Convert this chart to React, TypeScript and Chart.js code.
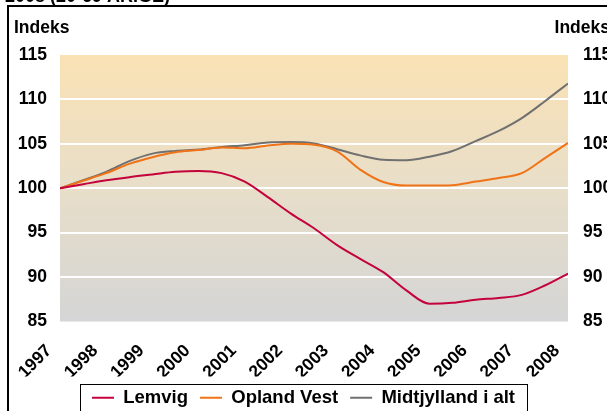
import React, { useEffect, useRef } from "react";
import { Chart, registerables } from "chart.js";

Chart.register(...registerables);

const years = [1997, 1997.5, 1998, 1998.5, 1999, 1999.5, 2000, 2000.5, 2001, 2001.5, 2002, 2002.5, 2003, 2003.5, 2004, 2004.5, 2005, 2005.5, 2006, 2006.5, 2007, 2007.5, 2008];
const lemvig = [100, 100.45, 100.9, 101.25, 101.55, 101.85, 101.95, 101.7, 100.75, 99.0, 97.15, 95.5, 93.6, 92.05, 90.55, 88.5, 87.0, 87.1, 87.45, 87.65, 88.0, 89.05, 90.4];
const oplandVest = [100, 100.85, 101.7, 102.75, 103.5, 104.05, 104.3, 104.6, 104.5, 104.8, 105.0, 104.9, 104.15, 102.1, 100.7, 100.3, 100.3, 100.35, 100.75, 101.15, 101.7, 103.4, 105.1];
const midtjylland = [100, 100.9, 101.85, 103.05, 103.9, 104.2, 104.35, 104.65, 104.85, 105.15, 105.2, 105.05, 104.4, 103.7, 103.2, 103.15, 103.55, 104.2, 105.3, 106.45, 107.9, 109.8, 111.8];
const seriesNames = ["Lemvig", "Opland Vest", "Midtjylland i alt"];
const yTicks = [85, 90, 95, 100, 105, 110, 115];
const axisTitle = "Indeks";
const chartTitle = "2008 (20-69 ÅRIGE)";

const FONT = "'Liberation Sans', Arial, sans-serif";

export default function App() {
  const ref = useRef<HTMLCanvasElement | null>(null);
  useEffect(() => {
    document.body.style.margin = "0";
    document.body.style.overflow = "hidden";
    const canvas = ref.current!;
    const toPts = (arr: number[]) => arr.map((v, i) => ({ x: years[i], y: v }));

    const decor = {
      id: "decor",
      beforeDraw(chart: any) {
        const { ctx, chartArea: a } = chart;
        const g = ctx.createLinearGradient(0, a.top, 0, a.bottom);
        g.addColorStop(0, "#FAE2B4");
        g.addColorStop(0.5, "#E8DEC9");
        g.addColorStop(1, "#D4D5D5");
        ctx.save();
        ctx.fillStyle = g;
        ctx.fillRect(a.left, a.top, a.right - a.left, a.bottom - a.top);
        ctx.restore();
      },
      afterDraw(chart: any) {
        const { ctx } = chart;
        ctx.save();
        ctx.strokeStyle = "#000";
        ctx.lineWidth = 2;
        ctx.beginPath();
        ctx.moveTo(8, chart.height);
        ctx.lineTo(8, 6);
        ctx.lineTo(chart.width, 6);
        ctx.stroke();
        ctx.fillStyle = "#000";
        ctx.font = `bold 18px ${FONT}`;
        ctx.textBaseline = "alphabetic";
        ctx.textAlign = "left";
        ctx.fillText(chartTitle, 5, 2);
        ctx.font = `bold 17.5px ${FONT}`;
        ctx.fillText(axisTitle, 14, 33);
        ctx.textAlign = "right";
        ctx.fillText(axisTitle, chart.width + 3, 33);
        const lg = chart.legend;
        if (lg && lg.legendHitBoxes && lg.legendHitBoxes.length) {
          const hb = lg.legendHitBoxes;
          const first = hb[0];
          const last = hb[hb.length - 1];
          const l = first.left - 12;
          const r = last.left + last.width + 12;
          const t = first.top - 5;
          ctx.strokeStyle = "#000";
          ctx.lineWidth = 1;
          ctx.strokeRect(Math.round(l) + 0.5, Math.round(t) + 0.5, Math.round(r - l), chart.height);
        }
        ctx.restore();
      },
    };

    const gridColor = (c: any) => (c.tick && (c.tick.value === 85 || c.tick.value === 115) ? "rgba(0,0,0,0)" : "#FFFFFF");
    const tickFont = { family: FONT, size: 17.5, weight: "bold" };

    const chart = new Chart(canvas, {
      type: "line",
      data: {
        datasets: [
          { label: seriesNames[0], data: toPts(lemvig), borderColor: "#C4023C", backgroundColor: "#C4023C", borderWidth: 2, pointRadius: 0, cubicInterpolationMode: "monotone" },
          { label: seriesNames[1], data: toPts(oplandVest), borderColor: "#F07318", backgroundColor: "#F07318", borderWidth: 2, pointRadius: 0, cubicInterpolationMode: "monotone" },
          { label: seriesNames[2], data: toPts(midtjylland), borderColor: "#707070", backgroundColor: "#707070", borderWidth: 2, pointRadius: 0, cubicInterpolationMode: "monotone" },
        ],
      },
      options: {
        animation: false,
        responsive: false,
        devicePixelRatio: 1,
        layout: { padding: { top: 55, left: 0, right: 0, bottom: 0 } },
        plugins: {
          tooltip: { enabled: false },
          title: { display: false },
          legend: {
            display: true,
            position: "bottom",
            labels: {
              color: "#000",
              font: { family: FONT, size: 18.5, weight: "bold" },
              usePointStyle: true,
              pointStyleWidth: 22,
              pointStyle: "line",
              padding: 12,
            },
          },
        },
        scales: {
          x: {
            type: "linear",
            min: 1997,
            max: 2008,
            grid: { display: false, drawTicks: false },
            border: { display: false },
            afterFit: (s: any) => { s.height = 55; },
            ticks: {
              stepSize: 1,
              autoSkip: false,
              maxRotation: 45,
              minRotation: 45,
              padding: 19,
              labelOffset: -11,
              color: "#000",
              font: tickFont,
              callback: (v: any) => String(v),
            },
          },
          y: {
            type: "linear",
            position: "left",
            min: 85,
            max: 115,
            afterFit: (s: any) => { s.width = 60; },
            afterBuildTicks: (s: any) => { s.ticks = yTicks.map((v) => ({ value: v })); },
            grid: { color: gridColor, lineWidth: 2, drawTicks: false },
            border: { display: false },
            ticks: { padding: 13, color: "#000", font: tickFont },
          },
          y1: {
            type: "linear",
            position: "right",
            min: 85,
            max: 115,
            afterFit: (s: any) => { s.width = 39; },
            afterBuildTicks: (s: any) => { s.ticks = yTicks.map((v) => ({ value: v })); },
            grid: { display: false, drawTicks: false },
            border: { display: false },
            ticks: { padding: 15, color: "#000", font: tickFont },
          },
        },
      },
      plugins: [decor],
    } as any);
    return () => chart.destroy();
  }, []);
  return <canvas ref={ref} width={607} height={417} style={{ display: "block", width: 607, height: 417 }} />;
}
